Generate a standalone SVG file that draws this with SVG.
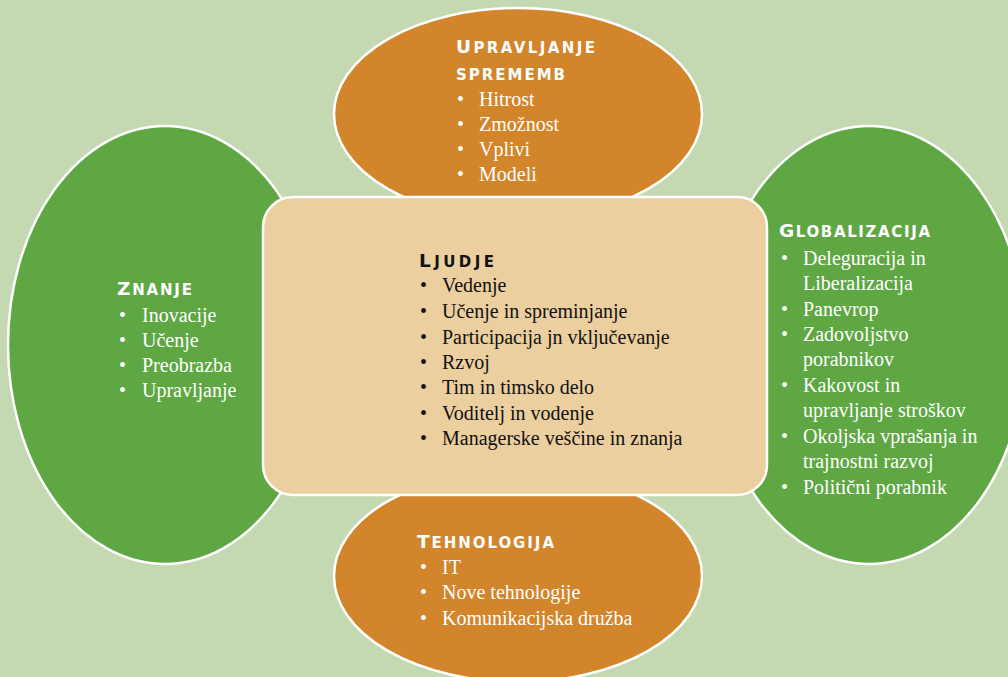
<svg xmlns="http://www.w3.org/2000/svg" width="1008" height="677" viewBox="0 0 1008 677">
  <style>
    .shape { stroke: #ffffff; stroke-width: 2.5; }
    .green { fill: #5ea743; }
    .orange { fill: #d2852b; }
    .core { fill: #eccf9e; }
    .head { font-family: "DejaVu Sans", "Verdana", sans-serif; font-weight: bold; }
    .big { font-size: 18.5px; }
    .small { font-size: 15px; }
    .item { font-family: "Liberation Serif", "DejaVu Serif", serif; font-size: 20px; }
    .light { fill: #ffffff; }
    .dark { fill: #111111; }
  </style>
  <rect width="1008" height="677" fill="#c4d8b2"/>

  <g id="znanje">
    <ellipse class="shape green" cx="165" cy="345" rx="157" ry="219"/>
    <g class="light">
      <text class="head" x="117" y="295" textLength="75" lengthAdjust="spacing"><tspan class="big">Z</tspan><tspan class="small">NANJE</tspan></text>
      <g class="item">
        <text x="119" y="322">•</text><text x="142" y="322">Inovacije</text>
        <text x="119" y="347">•</text><text x="142" y="347">Učenje</text>
        <text x="119" y="372">•</text><text x="142" y="372">Preobrazba</text>
        <text x="119" y="397">•</text><text x="142" y="397">Upravljanje</text>
      </g>
    </g>
  </g>

  <g id="globalizacija">
    <ellipse class="shape green" cx="869" cy="345" rx="157" ry="219"/>
    <g class="light">
      <text class="head" x="779" y="237" textLength="151" lengthAdjust="spacing"><tspan class="big">G</tspan><tspan class="small">LOBALIZACIJA</tspan></text>
      <g class="item">
        <text x="781" y="265">•</text><text x="803" y="265">Deleguracija in</text>
        <text x="803" y="290">Liberalizacija</text>
        <text x="781" y="316">•</text><text x="803" y="316">Panevrop</text>
        <text x="781" y="341">•</text><text x="803" y="341">Zadovoljstvo</text>
        <text x="803" y="366">porabnikov</text>
        <text x="781" y="392">•</text><text x="803" y="392">Kakovost in</text>
        <text x="803" y="417">upravljanje stroškov</text>
        <text x="781" y="443">•</text><text x="803" y="443">Okoljska vprašanja in</text>
        <text x="803" y="468">trajnostni razvoj</text>
        <text x="781" y="494">•</text><text x="803" y="494">Politični porabnik</text>
      </g>
    </g>
  </g>

  <g id="upravljanje-sprememb">
    <ellipse class="shape orange" cx="518" cy="114" rx="184" ry="106"/>
    <g class="light">
      <text class="head" x="456" y="53" textLength="139" lengthAdjust="spacing"><tspan class="big">U</tspan><tspan class="small">PRAVLJANJE</tspan></text>
      <text class="head small" x="456" y="80" textLength="109" lengthAdjust="spacing">SPREMEMB</text>
      <g class="item">
        <text x="457" y="106">•</text><text x="479" y="106">Hitrost</text>
        <text x="457" y="131">•</text><text x="479" y="131">Zmožnost</text>
        <text x="457" y="156">•</text><text x="479" y="156">Vplivi</text>
        <text x="457" y="181">•</text><text x="479" y="181">Modeli</text>
      </g>
    </g>
  </g>

  <g id="tehnologija">
    <ellipse class="shape orange" cx="518" cy="576" rx="184" ry="106"/>
    <g class="light">
      <text class="head" x="417" y="548" textLength="137" lengthAdjust="spacing"><tspan class="big">T</tspan><tspan class="small">EHNOLOGIJA</tspan></text>
      <g class="item">
        <text x="420" y="574">•</text><text x="442" y="574">IT</text>
        <text x="420" y="599">•</text><text x="442" y="599">Nove tehnologije</text>
        <text x="420" y="625">•</text><text x="442" y="625">Komunikacijska družba</text>
      </g>
    </g>
  </g>

  <g id="ljudje">
    <rect class="shape core" x="263" y="197" width="504" height="298" rx="30" ry="30"/>
    <g class="dark">
      <text class="head" x="419" y="267" textLength="75" lengthAdjust="spacing"><tspan class="big">L</tspan><tspan class="small">JUDJE</tspan></text>
      <g class="item">
        <text x="420" y="292">•</text><text x="442" y="292">Vedenje</text>
        <text x="420" y="318">•</text><text x="442" y="318">Učenje in spreminjanje</text>
        <text x="420" y="344">•</text><text x="442" y="344">Participacija jn vključevanje</text>
        <text x="420" y="369">•</text><text x="442" y="369">Rzvoj</text>
        <text x="420" y="394">•</text><text x="442" y="394">Tim in timsko delo</text>
        <text x="420" y="420">•</text><text x="442" y="420">Voditelj in vodenje</text>
        <text x="420" y="445">•</text><text x="442" y="445">Managerske veščine in znanja</text>
      </g>
    </g>
  </g>

  <!-- no connectors in this layout -->
  <g id="connectors"/>
</svg>
